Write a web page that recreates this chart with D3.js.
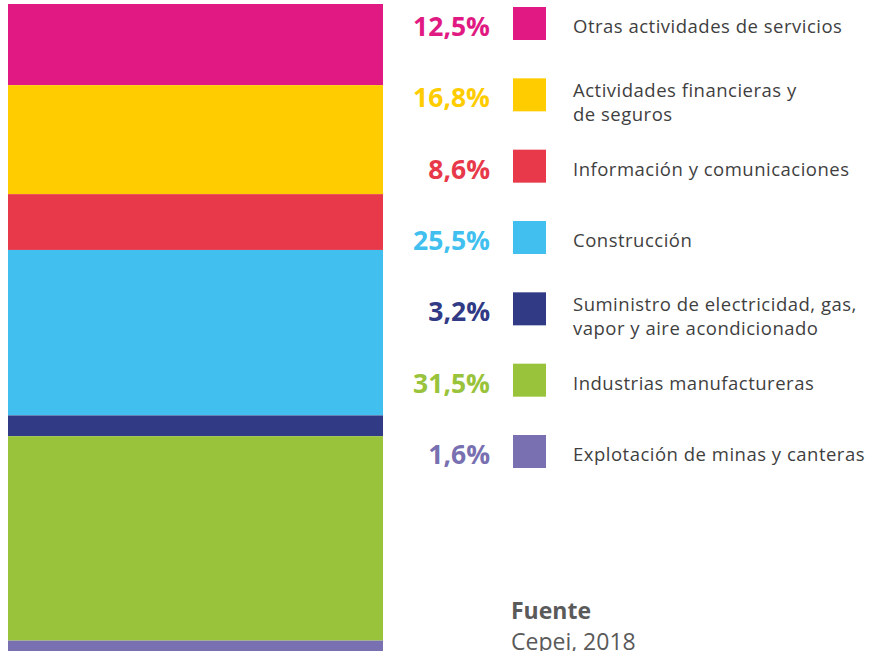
<!DOCTYPE html>
<html><head><meta charset="utf-8">
<script src="https://cdn.jsdelivr.net/npm/d3@7"></script>
<style>
html,body{margin:0;padding:0;background:#fff;}
svg{display:block;}
</style></head>
<body>
<svg id="chart" width="885" height="651"></svg>
<script>
const categories = [
  "Otras actividades de servicios",
  "Actividades financieras y de seguros",
  "Información y comunicaciones",
  "Construcción",
  "Suministro de electricidad, gas, vapor y aire acondicionado",
  "Industrias manufactureras",
  "Explotación de minas y canteras"
];
const labelLines = [
  ["Otras actividades de servicios"],
  ["Actividades financieras y", "de seguros"],
  ["Información y comunicaciones"],
  ["Construcción"],
  ["Suministro de electricidad, gas,", "vapor y aire acondicionado"],
  ["Industrias manufactureras"],
  ["Explotación de minas y canteras"]
];
const values = [12.5, 16.8, 8.6, 25.5, 3.2, 31.5, 1.6];
const percentLabels = ["12,5%", "16,8%", "8,6%", "25,5%", "3,2%", "31,5%", "1,6%"];
const colors = ["#E01A82", "#FFCC00", "#E8394A", "#41BFEF", "#303A85", "#98C33A", "#7870B0"];
const sourceTitle = "Fuente";
const sourceText = "Cepei, 2018";

const svg = d3.select("#chart");
const total = d3.sum(values);
const ends = Array.from(d3.cumsum(values));
const starts = ends.map((e, i) => e - values[i]);

const y = d3.scaleLinear().domain([0, total]).range([4, 651]);
const x = d3.scaleBand().domain(["bar"]).range([8, 383]).padding(0);

svg.append("g").selectAll("rect")
  .data(categories)
  .join("rect")
  .attr("x", x("bar"))
  .attr("width", x.bandwidth())
  .attr("y", (d, i) => y(starts[i]))
  .attr("height", (d, i) => y(ends[i]) - y(starts[i]))
  .attr("fill", (d, i) => colors[i]);

const ly = d3.scalePoint().domain(categories).range([23.5, 451.5]);
const sq = 33;

const leg = svg.append("g").selectAll("g")
  .data(categories)
  .join("g")
  .attr("transform", d => `translate(0,${ly(d)})`);

leg.append("rect")
  .attr("x", 513).attr("y", -sq / 2)
  .attr("width", sq).attr("height", sq)
  .attr("fill", (d, i) => colors[i]);

leg.append("text")
  .attr("x", 490).attr("y", 12.5)
  .attr("text-anchor", "end")
  .attr("font-family", "'Open Sans', sans-serif")
  .attr("font-weight", 700)
  .attr("font-size", 26.5)
  .attr("fill", (d, i) => colors[i])
  .text((d, i) => percentLabels[i]);

leg.append("text")
  .attr("font-family", "'Open Sans', sans-serif")
  .attr("font-size", 18.5)
  .attr("letter-spacing", 0.5)
  .attr("fill", "#3f3f3f")
  .attr("y", (d, i) => labelLines[i].length > 1 ? 2.5 : 9.5)
  .selectAll("tspan")
  .data((d, i) => labelLines[i])
  .join("tspan")
  .attr("x", 573)
  .attr("dy", (d, j) => j === 0 ? 0 : 24)
  .text(d => d);

svg.append("text")
  .attr("x", 511).attr("y", 619)
  .attr("font-family", "'Open Sans', sans-serif")
  .attr("font-weight", 700)
  .attr("font-size", 23)
  .attr("fill", "#5a5a5a")
  .text(sourceTitle);

svg.append("text")
  .attr("x", 511).attr("y", 649.5)
  .attr("font-family", "'Open Sans', sans-serif")
  .attr("font-size", 23)
  .attr("fill", "#5a5a5a")
  .text(sourceText);
</script>
</body></html>
